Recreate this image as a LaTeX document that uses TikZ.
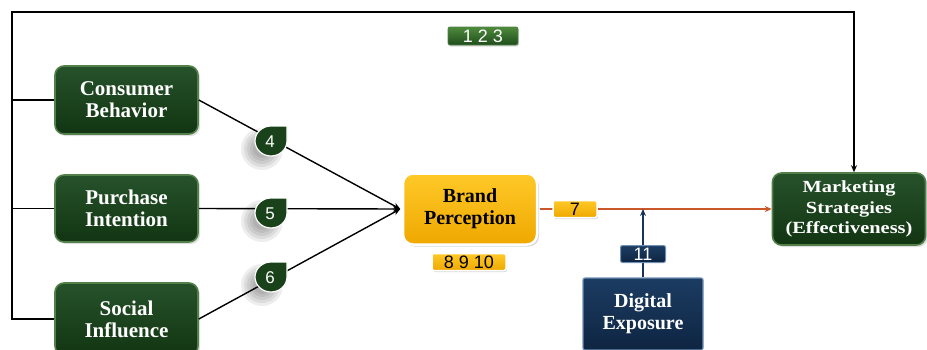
\documentclass[tikz,border=0pt]{standalone}
\usepackage{fontspec}
\setmainfont{Liberation Serif}
\newfontfamily\numfont{Liberation Sans}
\newfontfamily\wideserif[FakeStretch=1.2]{Liberation Serif}
\usetikzlibrary{shadows,arrows.meta}
\definecolor{gtop}{HTML}{26522A}
\definecolor{gbot}{HTML}{123512}
\definecolor{gborder}{HTML}{527F4A}
\definecolor{ytop}{HTML}{FFC928}
\definecolor{ybot}{HTML}{EFA800}
\definecolor{ntop}{HTML}{1C3C62}
\definecolor{nbot}{HTML}{0E2542}
\definecolor{nborder}{HTML}{6F8FB5}
\definecolor{orn}{HTML}{C9572A}
\definecolor{navyline}{HTML}{163556}
\definecolor{lgtop}{HTML}{4E8A3C}
\definecolor{lgbot}{HTML}{1F4D1C}
\definecolor{badgegreen}{HTML}{1A421A}
\begin{document}
\begin{tikzpicture}[x=1pt,y=1pt,
  >={Stealth[length=7pt,width=6pt]},
  conn/.style={line width=1.4pt, black},
  gbox/.style={rectangle, rounded corners=9pt, draw=gborder, line width=1.6pt,
    top color=gtop, bottom color=gbot, text=white, align=center,
    font=\bfseries\fontsize{21}{22}\selectfont, inner sep=0pt,
    drop shadow={opacity=0.25, shadow xshift=2pt, shadow yshift=-2pt}},
  ybox/.style={rectangle, rounded corners=10pt, draw=white, line width=2.5pt,
    top color=ytop, bottom color=ybot, text=black, align=center,
    font=\bfseries\fontsize{20}{22}\selectfont, inner sep=0pt,
    drop shadow={opacity=0.3, shadow xshift=2pt, shadow yshift=-2pt}},
  nbox/.style={rectangle, rounded corners=2pt, draw=nborder, line width=1.2pt,
    top color=ntop, bottom color=nbot, text=white, align=center,
    font=\bfseries\fontsize{20}{22}\selectfont, inner sep=0pt},
  labbase/.style={rectangle, rounded corners=2pt, inner sep=0pt,
    minimum height=17pt, font=\numfont\fontsize{18}{18}\selectfont},
  ylab/.style={labbase, draw=white, line width=1.5pt, top color=ytop, bottom color=ybot,
    text=black, drop shadow={opacity=0.3, shadow xshift=1pt, shadow yshift=-1.5pt}},
  nlab/.style={labbase, draw=nborder, line width=1pt, top color=ntop, bottom color=nbot, text=white},
  glab/.style={labbase, draw=gborder, line width=0.8pt, top color=lgtop, bottom color=lgbot,
    text=white, drop shadow={opacity=0.25, shadow xshift=1pt, shadow yshift=-1.5pt}},
  badgeshape/.style={fill=badgegreen, draw=white, line width=1.2pt},
  badgeblur/.style={fill=black, opacity=0.07},
  badgenum/.style={text=white, font=\numfont\fontsize{17}{17}\selectfont, inner sep=0pt}
]
\useasboundingbox (0,0) rectangle (927,-349);

% boxes
\node[gbox, minimum width=143pt, minimum height=68pt] (cb) at (126.5,-100) {Consumer\\Behavior};
\node[gbox, minimum width=143pt, minimum height=67pt] (pi) at (126.5,-208.5) {Purchase\\Intention};
\node[gbox, minimum width=143pt, minimum height=72pt] (si) at (126.5,-319) {Social\\Influence};
\node[ybox, minimum width=134pt, minimum height=71pt] (bp) at (470,-209) {Brand\\Perception};
\node[gbox, minimum width=153pt, minimum height=72pt,
  font=\wideserif\bfseries\fontsize{17}{20.5}\selectfont] (mk) at (849,-209) {Marketing\\Strategies\\(Effectiveness)};
\node[nbox, minimum width=120pt, minimum height=72pt] (de) at (643,-314) {Digital\\Exposure};

% connectors
\coordinate (corner) at (12,-12);
\coordinate (bin) at ([xshift=-1.5pt]bp.west);
\draw[conn,->] (si.west) -| (corner) -| ([xshift=5pt]mk.north);
\draw[conn] (cb.west) -- (cb.west -| corner);
\draw[conn] (pi.west) -- (pi.west -| corner);
\draw[conn,->] (cb.east) -- (bin);
\draw[conn,->] (pi.east) -- (bin);
\draw[conn,->] (si.east) -- (bin);
\draw[line width=1.4pt, orn, ->] ([xshift=1.5pt]bp.east) -- (mk.west);
\draw[line width=1.7pt, navyline, ->] (de.north) -- (de.north |- bp.east);

% labels
\node[ylab, minimum width=44pt] (l7) at (575,-209) {7};
\node[ylab, minimum width=74pt] (l8) at (469,-262) {8 9 10};
\node[nlab, minimum width=45pt] (l11) at (643,-254) {11};
\node[glab, minimum width=70pt, minimum height=18pt] (l123) at (483,-36) {1 2 3};

% badges (soft shadow, drop shape, number)
\foreach \y in {-141,-213,-277}{
  \foreach \r in {21,18,15,12,9}{
    \fill[badgeblur] (262,\y-8) circle[radius=\r];
  }
}
\path[badgeshape] (271,-141) ++(16,0) -- ++(0,15) -- ++(-16,0) arc[start angle=90, end angle=360, x radius=16, y radius=15] -- cycle;
\node[badgenum] (b4) at (270,-142) {4};
\path[badgeshape] (271,-213) ++(16,0) -- ++(0,15) -- ++(-16,0) arc[start angle=90, end angle=360, x radius=16, y radius=15] -- cycle;
\node[badgenum] (b5) at (270,-214) {5};
\path[badgeshape] (271,-277) ++(16,0) -- ++(0,15) -- ++(-16,0) arc[start angle=90, end angle=360, x radius=16, y radius=15] -- cycle;
\node[badgenum] (b6) at (270,-278) {6};
\end{tikzpicture}
\end{document}
